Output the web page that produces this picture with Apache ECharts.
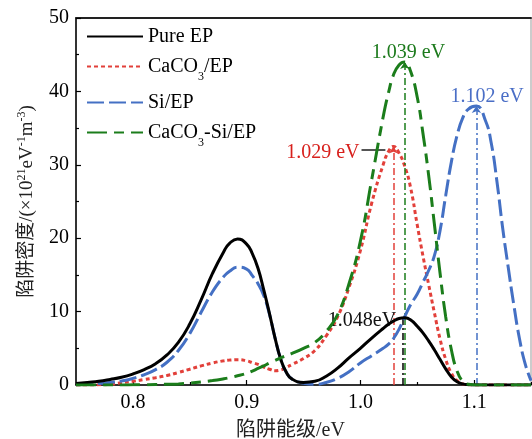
<!DOCTYPE html>
<html>
<head>
<meta charset="utf-8">
<script src="https://cdn.jsdelivr.net/npm/echarts@6/dist/echarts.min.js"></script>
<style>
  html, body { margin: 0; padding: 0; background: #fff; }
  #chart { width: 532px; height: 439px; }
</style>
</head>
<body>
<div id="chart"></div>
<script>
// Trap energy level (eV)
const energy = [
  0.75, 0.76, 0.77, 0.78, 0.79, 0.80, 0.81, 0.82, 0.83, 0.84,
  0.85, 0.86, 0.87, 0.88, 0.885, 0.892, 0.90, 0.905, 0.91, 0.915,
  0.92, 0.925, 0.93, 0.935, 0.94, 0.95, 0.96, 0.97, 0.98, 0.99,
  1.00, 1.01, 1.02, 1.025, 1.029, 1.034, 1.039, 1.044, 1.05, 1.055,
  1.06, 1.065, 1.07, 1.075, 1.08, 1.085, 1.09, 1.095, 1.102, 1.11,
  1.115, 1.12, 1.125, 1.13, 1.135, 1.14, 1.145, 1.15
];

// Trap density (x10^21 eV^-1 m^-3)
const pureEP = [
  0.2, 0.35, 0.5, 0.75, 1.05, 1.5, 2.1, 2.9, 4.1, 5.8,
  8.3, 11.6, 15.2, 18.2, 19.3, 19.9, 19.2, 17.9, 15.9, 13.0,
  9.8, 6.4, 3.5, 1.7, 0.8, 0.35, 0.5, 1.2, 2.3, 3.7,
  5.0, 6.4, 7.7, 8.3, 8.7, 9.05, 9.15, 8.9, 8.0, 7.1,
  6.0, 4.8, 3.5, 2.2, 1.1, 0.45, 0.15, 0.05, 0, 0,
  0, 0, 0, 0, 0, 0, 0, 0
];
const caco3EP = [
  0, 0, 0.02, 0.1, 0.3, 0.5, 0.75, 1.0, 1.3, 1.7,
  2.15, 2.6, 3.0, 3.3, 3.4, 3.45, 3.3, 3.05, 2.8, 2.45,
  2.15, 1.95, 2.05, 2.4, 2.8, 3.6, 4.7, 6.7, 9.3, 13.3,
  18.3, 24.8, 30.0, 31.9, 32.5, 31.6, 29.8, 27.0, 21.8, 17.6,
  13.7, 9.9, 6.3, 3.5, 1.6, 0.6, 0.15, 0.03, 0, 0,
  0, 0, 0, 0, 0, 0, 0, 0
];
const siEP = [
  0.05, 0.1, 0.2, 0.35, 0.55, 0.9, 1.4, 2.1, 3.1, 4.7,
  7.0, 9.9, 12.7, 14.8, 15.5, 16.05, 15.8, 14.9, 13.8, 12.2,
  9.7, 6.4, 3.5, 1.7, 0.8, 0.25, 0.1, 0.35, 0.9, 1.8,
  3.0, 4.0, 5.0, 5.6, 6.3, 7.6, 9.3, 10.9, 12.4, 14.0,
  15.6, 17.6, 21.0, 25.8, 30.4, 34.0, 36.4, 37.6, 38.0, 36.0,
  33.0, 27.8, 21.5, 16.0, 10.8, 6.2, 2.8, 0.6
];
const caco3SiEP = [
  0, 0, 0, 0, 0, 0.02, 0.04, 0.06, 0.1, 0.15,
  0.25, 0.4, 0.6, 0.85, 1.0, 1.25, 1.6, 1.9, 2.25, 2.6,
  3.0, 3.35, 3.7, 4.0, 4.3, 5.0, 5.8, 7.3, 9.6, 13.8,
  19.6, 28.0, 36.5, 40.0, 42.2, 43.6, 44.0, 42.8, 39.2, 34.3,
  28.6, 22.0, 15.3, 9.3, 4.8, 1.9, 0.5, 0.1, 0, 0,
  0, 0, 0, 0, 0, 0, 0, 0
];

const seriesNames = ['Pure EP', 'CaCO3/EP', 'Si/EP', 'CaCO3-Si/EP'];
const seriesColors = ['#000000', '#e2403a', '#4470c4', '#1b7d1b'];
const labelColors = ['#111111', '#d8201c', '#4a6ec6', '#1c7a1c'];

// Peak trap level of each curve (eV) and the text written next to it
const peakEnergy = [1.037, 1.029, 1.102, 1.039];
const peakText = ['1.048eV', '1.029 eV', '1.102 eV', '1.039 eV'];

const xMajorTicks = [0.8, 0.9, 1.0, 1.1];
const xMinorTicks = [0.75, 0.85, 0.95, 1.05, 1.15];

const FONT = '"Liberation Serif", "Times New Roman", "Noto Sans CJK SC", serif';

function pairs(ys) { return energy.map((e, i) => [e, ys[i]]); }
function valueAt(ys, e) {
  for (let i = 1; i < energy.length; i++) {
    if (energy[i] >= e) {
      const t = (e - energy[i - 1]) / (energy[i] - energy[i - 1]);
      return ys[i - 1] + t * (ys[i] - ys[i - 1]);
    }
  }
  return ys[ys.length - 1];
}

const curves = [pureEP, caco3EP, siEP, caco3SiEP];
const dashes = ['solid', [4, 3], [17, 5], [20, 7, 10, 7]];
// where each peak's text sits, in data units
const textAnchor = [[1.0014, 8.8], [0.967, 31.6], [1.1114, 39.3], [1.0423, 45.25]];

const series = curves.map((ys, k) => {
  const top = valueAt(ys, peakEnergy[k]);
  const markLineData = [[
    { coord: [peakEnergy[k], 0], symbol: 'none' },
    { coord: [peakEnergy[k], top], symbol: k === 0 ? 'none' : 'arrow' }
  ]];
  if (k === 1) {
    // short leader from the text to the red peak
    markLineData.push([
      { coord: [1.001, 32.0], symbol: 'none', lineStyle: { color: '#555', type: 'solid', width: 2 } },
      { coord: [1.022, 32.0], symbol: 'none' }
    ]);
  }
  return {
    name: seriesNames[k],
    type: 'line',
    data: pairs(ys),
    symbol: 'none',
    smooth: 0.5,
    z: k === 0 ? 6 : 3 + k,
    lineStyle: { color: seriesColors[k], width: 3, type: dashes[k] },
    itemStyle: { color: seriesColors[k] },
    markLine: {
      silent: true,
      symbolSize: 7,
      label: { show: false },
      lineStyle: { color: seriesColors[k], width: 1.5, type: [7, 3, 2, 3] },
      data: markLineData
    },
    markPoint: {
      silent: true,
      symbol: 'circle',
      symbolSize: 0,
      data: [{ coord: textAnchor[k] }],
      label: {
        show: true,
        position: 'inside',
        formatter: peakText[k],
        color: labelColors[k],
        fontSize: 20,
        fontFamily: FONT
      }
    }
  };
});

const chart = echarts.init(document.getElementById('chart'));
chart.setOption({
  backgroundColor: '#fff',
  animation: false,
  grid: {
    left: 76, right: 1, top: 18, bottom: 54,
    outerBoundsMode: 'none',
    containLabel: false,
    show: true, borderColor: '#999', borderWidth: 1
  },
  legend: {
    orient: 'vertical',
    left: 86, top: 26,
    padding: 0,
    itemWidth: 56, itemHeight: 14, itemGap: 9,
    itemStyle: { opacity: 0 },
    data: seriesNames,
    formatter: name => name.replace('CaCO3', 'CaCO{s|3}'),
    textStyle: {
      fontSize: 20, fontFamily: FONT, color: '#000', lineHeight: 21,
      rich: { s: { fontSize: 12, fontFamily: FONT, verticalAlign: 'bottom', lineHeight: 12, padding: [0, 0, -6, 0] } }
    }
  },
  xAxis: [
    {
      type: 'value', min: 0.75, max: 1.15,
      name: '陷阱能级/eV', nameLocation: 'middle', nameGap: 36,
      nameTextStyle: { fontSize: 20, fontFamily: FONT, color: '#222', padding: [0, 26, 0, 0] },
      axisLine: { show: true, onZero: false, lineStyle: { color: '#000', width: 1.5 } },
      axisTick: { show: true, inside: true, length: 5, customValues: xMajorTicks, lineStyle: { color: '#000', width: 1.2 } },
      axisLabel: { customValues: xMajorTicks, formatter: v => v.toFixed(1), fontSize: 20, fontFamily: FONT, color: '#000', margin: 8 },
      splitLine: { show: false }
    },
    {
      type: 'value', min: 0.75, max: 1.15, position: 'bottom',
      axisLine: { show: false },
      axisTick: { show: true, inside: true, length: 3, customValues: xMinorTicks, lineStyle: { color: '#000', width: 1.2 } },
      axisLabel: { show: false },
      splitLine: { show: false }
    },
    {
      type: 'value', min: 0.75, max: 1.15, position: 'top',
      axisLine: { show: true, onZero: false, lineStyle: { color: '#222', width: 2 } },
      axisTick: { show: false },
      axisLabel: { show: false },
      splitLine: { show: false }
    }
  ],
  yAxis: {
    type: 'value', min: 0, max: 50, interval: 10,
    name: '陷阱密度/(×10{sup|21}eV{sup|-1}m{sup|-3})',
    nameLocation: 'middle', nameGap: 36,
    nameTextStyle: {
      fontSize: 19, fontFamily: FONT, color: '#222', lineHeight: 22,
      rich: { sup: { fontSize: 12, fontFamily: FONT, color: '#222', verticalAlign: 'top', lineHeight: 12 } }
    },
    axisLine: { show: true, lineStyle: { color: '#000', width: 1.5 } },
    axisTick: { show: true, inside: true, length: 5, lineStyle: { color: '#000', width: 1.2 } },
    minorTick: { show: true, splitNumber: 2, length: 3, lineStyle: { color: '#000', width: 1.2 } },
    axisLabel: { fontSize: 20, fontFamily: FONT, color: '#000', margin: 7 },
    splitLine: { show: false },
    minorSplitLine: { show: false }
  },
  series: series
});
</script>
</body>
</html>
